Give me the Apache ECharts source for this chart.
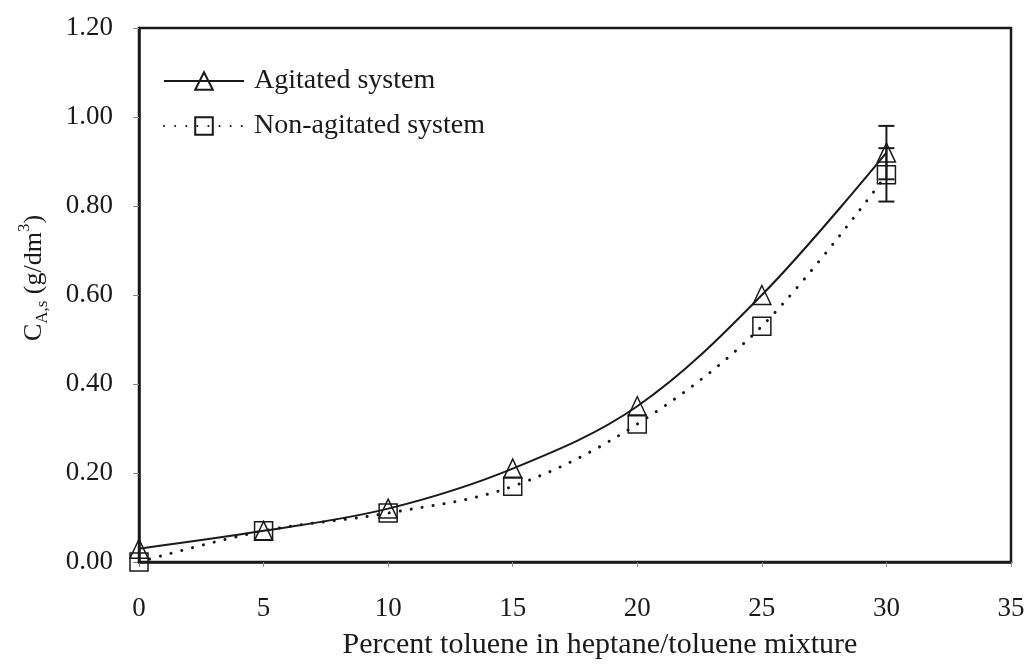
<!DOCTYPE html>
<html>
<head>
<meta charset="utf-8">
<script src="https://cdn.jsdelivr.net/npm/echarts@6/dist/echarts.min.js"></script>
<style>
  html, body { margin: 0; padding: 0; background: #fff; }
  #chart { width: 1028px; height: 667px; }
</style>
</head>
<body>
<div id="chart"></div>
<script>
// Percent toluene in the heptane/toluene mixture
const tolueneFraction = [0, 5, 10, 15, 20, 25, 30];
// Solubility C_A,s in g/dm3
const agitated = [0.03, 0.07, 0.12, 0.21, 0.35, 0.60, 0.92];
const nonAgitated = [0.00, 0.07, 0.11, 0.17, 0.31, 0.53, 0.87];
// Error bars: [x, low, high]
const agitatedErr = [[30, 0.86, 0.98]];
const nonAgitatedErr = [[30, 0.81, 0.93]];
const yTicks = [0, 0.2, 0.4, 0.6, 0.8, 1.0, 1.2];

const FONT = '"Liberation Serif", "DejaVu Serif", serif';
const INK = '#1a1a1a';

const pairs = (xs, ys) => xs.map((x, i) => [x, ys[i]]);

function errorBar(params, api) {
  const x = api.value(0);
  const lo = api.coord([x, api.value(1)]);
  const hi = api.coord([x, api.value(2)]);
  const half = 8;
  const style = { stroke: INK, lineWidth: 2 };
  return {
    type: 'group',
    children: [
      { type: 'line', shape: { x1: lo[0], y1: lo[1], x2: hi[0], y2: hi[1] }, style },
      { type: 'line', shape: { x1: lo[0] - half, y1: lo[1], x2: lo[0] + half, y2: lo[1] }, style },
      { type: 'line', shape: { x1: hi[0] - half, y1: hi[1], x2: hi[0] + half, y2: hi[1] }, style }
    ]
  };
}

const chart = echarts.init(document.getElementById('chart'), null, { renderer: 'canvas' });
chart.setOption({
  animation: false,
  backgroundColor: '#fff',
  textStyle: { fontFamily: FONT, color: INK },
  grid: {
    left: 139, right: 17, top: 28, bottom: 105,
    show: true, borderColor: INK, borderWidth: 2.5, backgroundColor: 'transparent'
  },
  legend: {
    orient: 'vertical',
    left: 163, top: 67,
    padding: 0,
    itemWidth: 80, itemHeight: 22, itemGap: 17,
    textStyle: { fontFamily: FONT, fontSize: 28, color: INK, padding: [0, 0, 0, 5] },
    data: ['Agitated system', 'Non-agitated system']
  },
  xAxis: {
    type: 'value',
    min: 0, max: 35, interval: 5,
    name: 'Percent toluene in heptane/toluene mixture',
    nameLocation: 'middle',
    nameGap: 68,
    nameTextStyle: { fontFamily: FONT, fontSize: 30, color: INK, padding: [0, 0, 0, 50] },
    axisLine: { lineStyle: { color: INK, width: 2.5 } },
    axisTick: { show: true, inside: false, length: 5, lineStyle: { color: '#888', width: 1 } },
    axisLabel: { margin: 33, fontFamily: FONT, fontSize: 27, color: INK },
    splitLine: { show: false }
  },
  yAxis: {
    type: 'value',
    min: 0, max: 1.2, interval: 0.2,
    name: '{c|C}{sub|A,s}{c| (g/dm}{sup|3}{c|)}',
    nameLocation: 'middle',
    nameGap: 92,
    nameRotate: 90,
    nameTextStyle: {
      padding: [0, 0, 0, 34],
      rich: {
        c: { fontFamily: FONT, fontSize: 26, color: INK, verticalAlign: 'bottom', lineHeight: 30 },
        sub: { fontFamily: FONT, fontSize: 17, color: INK, verticalAlign: 'bottom', padding: [0, 0, -4, 0], lineHeight: 30 },
        sup: { fontFamily: FONT, fontSize: 17, color: INK, verticalAlign: 'top', padding: [-1, 0, 0, 0], lineHeight: 22 }
      }
    },
    axisLine: { lineStyle: { color: INK, width: 2.5 } },
    axisTick: { show: true, inside: false, length: 6, lineStyle: { color: '#888', width: 1 } },
    axisLabel: {
      margin: 26, fontFamily: FONT, fontSize: 27, color: INK,
      customValues: yTicks,
      formatter: v => v.toFixed(2)
    },
    splitLine: { show: false }
  },
  series: [
    {
      name: 'Agitated system',
      type: 'line',
      data: pairs(tolueneFraction, agitated),
      smooth: 0.35,
      symbol: 'triangle',
      symbolSize: [18, 19],
      showAllSymbol: true,
      lineStyle: { color: INK, width: 2, type: 'solid' },
      itemStyle: { color: 'rgba(255,255,255,0)', borderColor: INK, borderWidth: 1.5 },
      z: 3
    },
    {
      name: 'Non-agitated system',
      type: 'line',
      data: pairs(tolueneFraction, nonAgitated),
      smooth: 0.35,
      symbol: 'rect',
      symbolSize: [18, 18],
      showAllSymbol: true,
      lineStyle: { color: INK, width: 3, type: [0.1, 11], cap: 'round' },
      itemStyle: { color: 'rgba(255,255,255,0)', borderColor: INK, borderWidth: 1.5 },
      z: 3
    },
    {
      type: 'custom',
      name: 'agitatedErr',
      data: agitatedErr,
      renderItem: errorBar,
      encode: { x: 0, y: [1, 2] },
      z: 4,
      silent: true
    },
    {
      type: 'custom',
      name: 'nonAgitatedErr',
      data: nonAgitatedErr,
      renderItem: errorBar,
      encode: { x: 0, y: [1, 2] },
      z: 4,
      silent: true
    }
  ]
});
</script>
</body>
</html>
